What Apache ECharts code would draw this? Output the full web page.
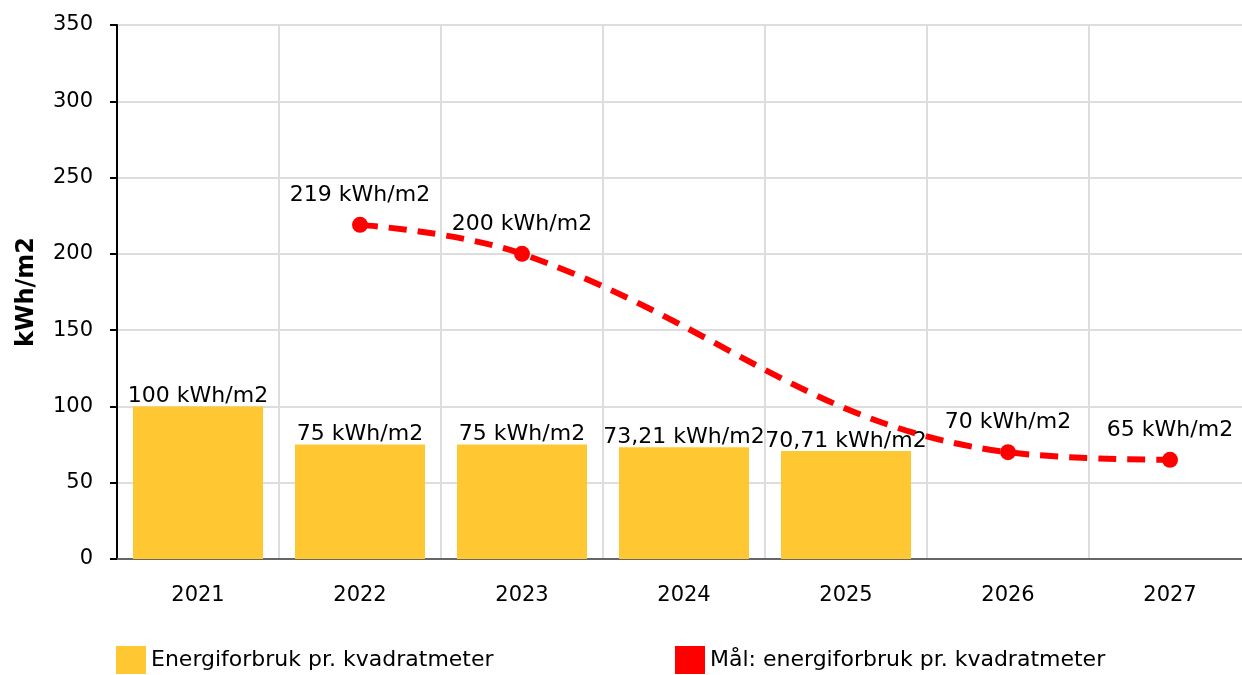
<!DOCTYPE html>
<html>
<head>
<meta charset="utf-8">
<script src="https://cdn.jsdelivr.net/npm/echarts@6/dist/echarts.min.js"></script>
<style>
  html, body { margin: 0; padding: 0; background: #fff; }
  #main { width: 1242px; height: 675px; }
</style>
</head>
<body>
<div id="main"></div>
<script>
// data
const years = ['2021', '2022', '2023', '2024', '2025', '2026', '2027'];
const forbruk = [100, 75, 75, 73.21, 70.71, null, null];
const maal = [null, 219, 200, null, null, 70, 65];
const yTicks = [0, 50, 100, 150, 200, 250, 300, 350];

const FONT = 'DejaVu Sans';
const fmt = v => String(v).replace('.', ',') + ' kWh/m2';

const chart = echarts.init(document.getElementById('main'));
chart.setOption({
  animation: false,
  textStyle: { fontFamily: FONT },
  grid: { left: 117, top: 25, width: 1134, height: 534, outerBoundsMode: 'none' },
  legend: [
    {
      left: 116, top: 646, padding: 0, icon: 'rect', itemWidth: 30, itemHeight: 28, itemGap: 10,
      data: ['Energiforbruk pr. kvadratmeter'],
      textStyle: { fontFamily: FONT, fontSize: 22, color: '#000' }
    },
    {
      left: 675, top: 646, padding: 0, icon: 'rect', itemWidth: 30, itemHeight: 28,
      data: ['Mål: energiforbruk pr. kvadratmeter'],
      textStyle: { fontFamily: FONT, fontSize: 22, color: '#000' }
    }
  ],
  xAxis: {
    type: 'category',
    data: years,
    axisLine: { lineStyle: { color: '#666', width: 2 } },
    axisTick: { alignWithLabel: true, length: 8, lineStyle: { color: '#999', width: 2 } },
    axisLabel: { color: '#000', fontSize: 21, margin: 26 },
    splitLine: { show: true, lineStyle: { color: '#ddd', width: 2 } }
  },
  yAxis: {
    type: 'value',
    min: yTicks[0], max: yTicks[yTicks.length - 1], interval: 50,
    name: 'kWh/m2',
    nameLocation: 'middle',
    nameGap: 78,
    nameTextStyle: { fontSize: 24, fontWeight: 'bold', color: '#000' },
    axisLine: { show: true, lineStyle: { color: '#000', width: 2 } },
    axisTick: { show: true, length: 7, lineStyle: { color: '#000', width: 2 } },
    axisLabel: { color: '#000', fontSize: 21, margin: 24 },
    splitLine: { lineStyle: { color: '#ddd', width: 2 } }
  },
  series: [
    {
      name: 'Energiforbruk pr. kvadratmeter',
      type: 'bar',
      data: forbruk,
      barWidth: 130,
      itemStyle: { color: '#FFC832' },
      label: {
        show: true, position: 'top', distance: -1, color: '#000', fontSize: 22,
        formatter: p => fmt(p.value)
      }
    },
    {
      name: 'Mål: energiforbruk pr. kvadratmeter',
      type: 'line',
      data: maal,
      connectNulls: true,
      smooth: 0.4,
      symbol: 'circle',
      symbolSize: 16,
      itemStyle: { color: '#FF0000' },
      lineStyle: { color: '#FF0000', width: 6, type: [18, 11] },
      label: {
        show: true, position: 'top', distance: 11, color: '#000', fontSize: 22,
        formatter: p => fmt(p.value)
      }
    }
  ]
});
</script>
</body>
</html>
